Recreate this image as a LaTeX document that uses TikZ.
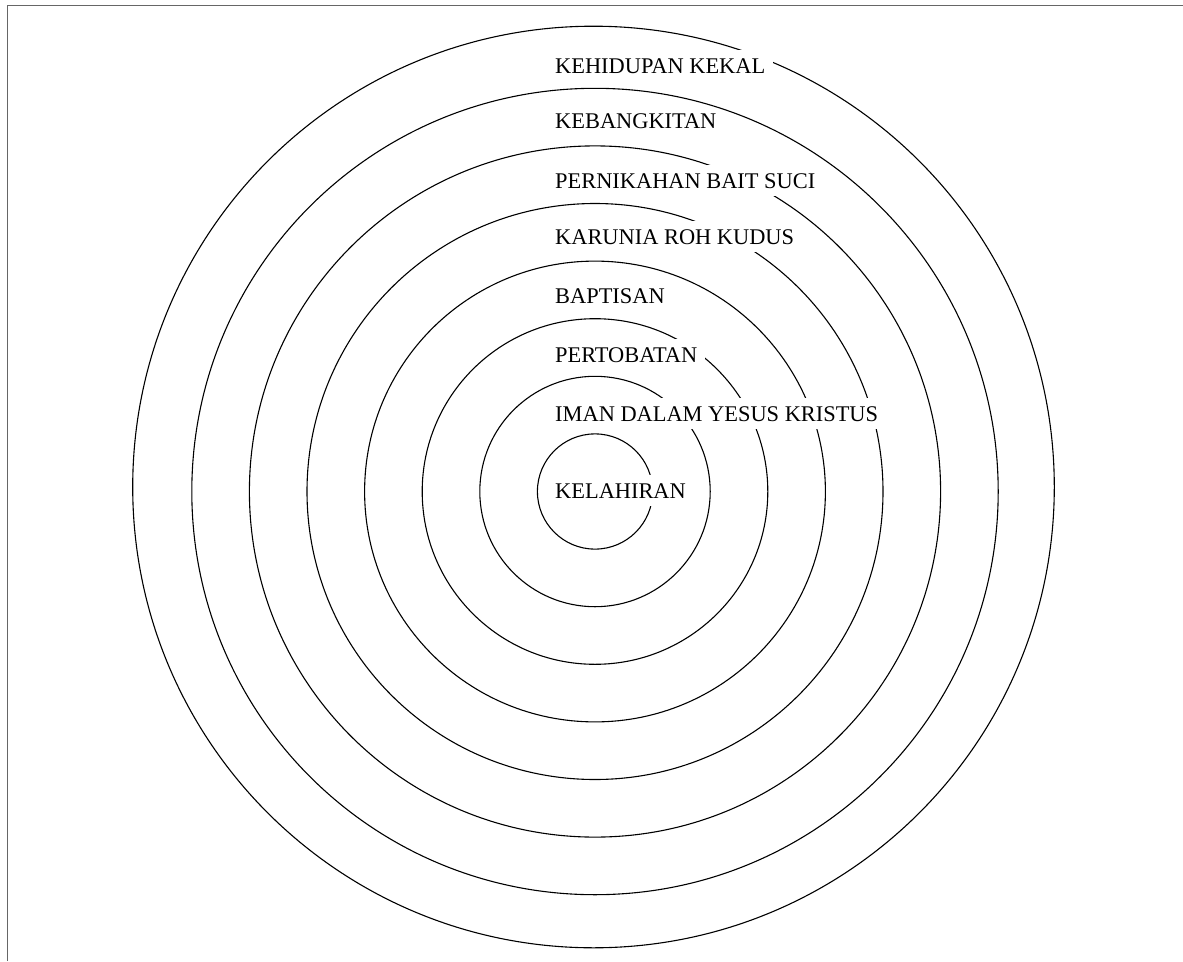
\documentclass[tikz,border=0pt]{standalone}
\usepackage{fontspec}
\setmainfont{Liberation Serif}
\begin{document}
\begin{tikzpicture}[x=1pt,y=-1pt,
  ring/.style={draw=black, line width=1.1pt},
  frame/.style={draw=black!60, line width=1.6pt},
  lbl/.style={fill=white, inner sep=8pt, anchor=base west,
              font=\fontsize{22.4}{26}\selectfont}]
  \useasboundingbox (0,0) rectangle (1183,961);
  % page frame, top and left edges
  \draw[frame] (7.5,961) -- (7.5,5.5) -- (1183,5.5);
  % concentric rings
  \coordinate (c) at (595,491.5);
  \coordinate (co) at (593.5,487);
  \foreach \r in {57.6,115.2,172.8,230.4,288,345.6,403.2}
    \draw[ring] (c) circle[radius=\r];
  \draw[ring] (co) circle[radius=460.8];
  % ring labels, left aligned
  \node[lbl] (l8) at (547,73)  {KEHIDUPAN KEKAL};
  \node[lbl, inner sep=4pt] (l7) at (551,128) {KEBANGKITAN};
  \node[lbl] (l6) at (547,188) {PERNIKAHAN BAIT SUCI};
  \node[lbl] (l5) at (547,244) {KARUNIA ROH KUDUS};
  \node[lbl] (l4) at (547,303) {BAPTISAN};
  \node[lbl] (l3) at (547,362) {PERTOBATAN};
  \node[lbl] (l2) at (547,421) {IMAN DALAM YESUS KRISTUS};
  \node[lbl] (l1) at (547,498) {KELAHIRAN};
\end{tikzpicture}
\end{document}
